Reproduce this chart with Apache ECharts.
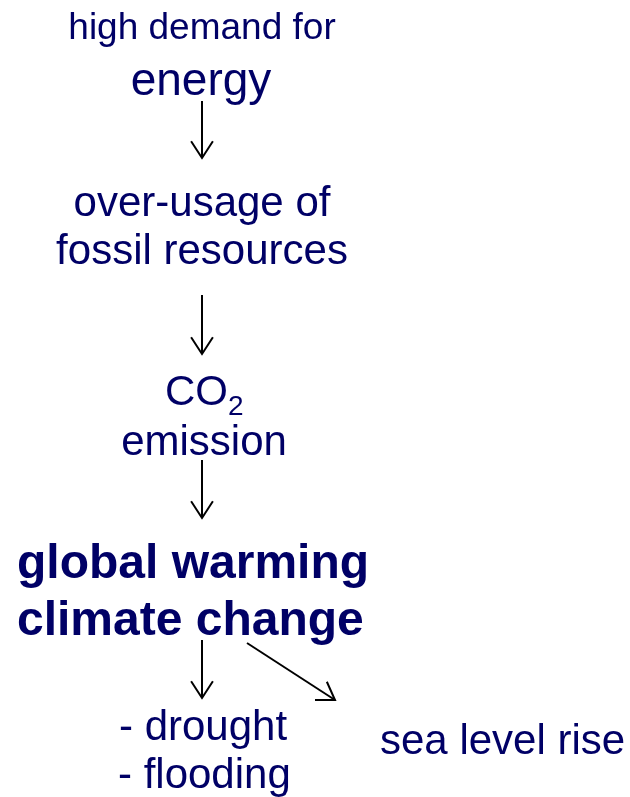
<!DOCTYPE html>
<html>
<head>
<meta charset="utf-8">
<script src="https://cdn.jsdelivr.net/npm/echarts@6/dist/echarts.min.js"></script>
<style>
html,body{margin:0;padding:0;background:#fff;}
#main{width:630px;height:797px;}
</style>
</head>
<body>
<div id="main"></div>
<script>
// ---- content (texts of the flow diagram) ----
const labels = [
  'high demand for',
  'energy',
  'over-usage of',
  'fossil resources',
  'CO',
  '2',
  'emission',
  'global warming',
  'climate change',
  '- drought',
  '- flooding',
  'sea level rise'
];
// arrows: step they leave from -> step they lead to
const arrowLinks = [
  ['energy', 'over-usage of'],
  ['fossil resources', 'CO'],
  ['emission', 'global warming'],
  ['climate change', '- drought'],
  ['climate change', 'sea level rise']
];

// ---- layout / style (kept apart from content) ----
const TEXT_COLOR = '#000066';
const FONT = '"Liberation Sans", Arial, sans-serif';
// x, baseline y, font size, align, weight
const textLayout = {
  'high demand for':  [202, 37, 37, 'center', 'normal'],
  'energy':           [201, 92, 46, 'center', 'normal'],
  'over-usage of':    [202, 214, 42, 'center', 'normal'],
  'fossil resources': [202, 262, 42, 'center', 'normal'],
  'CO':               [165, 403, 42, 'left', 'normal'],
  '2':                [228, 413, 28, 'left', 'normal'],
  'emission':         [204, 453, 42, 'center', 'normal'],
  'global warming':   [17, 575, 48, 'left', 'bold'],
  'climate change':   [17, 632, 48, 'left', 'bold'],
  '- drought':        [119, 738, 42, 'left', 'normal'],
  '- flooding':       [118, 786, 42, 'left', 'normal'],
  'sea level rise':   [380, 752, 42, 'left', 'normal']
};
// arrow shaft start / tip per link
const arrowLayout = [
  [[202, 101], [202, 158]],
  [[202, 295], [202, 354]],
  [[202, 460], [202, 518]],
  [[202, 640], [202, 698]],
  [[247, 643], [335, 700]]
];
const BASE_K = 0.22; // 'middle' anchor to alphabetic baseline, in em

const elements = [];
labels.forEach(function (t) {
  const L = textLayout[t];
  elements.push({
    type: 'text',
    x: L[0],
    y: L[1] - BASE_K * L[2],
    style: {
      text: t,
      fill: TEXT_COLOR,
      font: L[4] + ' ' + L[2] + 'px ' + FONT,
      align: L[3], textAlign: L[3],
      verticalAlign: 'middle', textVerticalAlign: 'middle'
    }
  });
});

const HEAD_LEN = 20, HEAD_ANG = 33 * Math.PI / 180;
arrowLinks.forEach(function (lnk, i) {
  const p0 = arrowLayout[i][0], p1 = arrowLayout[i][1];
  const a = Math.atan2(p1[1] - p0[1], p1[0] - p0[0]) + Math.PI;
  const h1 = [p1[0] + HEAD_LEN * Math.cos(a - HEAD_ANG), p1[1] + HEAD_LEN * Math.sin(a - HEAD_ANG)];
  const h2 = [p1[0] + HEAD_LEN * Math.cos(a + HEAD_ANG), p1[1] + HEAD_LEN * Math.sin(a + HEAD_ANG)];
  elements.push({
    type: 'polyline', name: lnk.join('->'),
    shape: { points: [p0, p1] },
    style: { stroke: '#000', lineWidth: 2, fill: null }
  });
  elements.push({
    type: 'polyline',
    shape: { points: [h1, p1, h2] },
    style: { stroke: '#000', lineWidth: 2, fill: null }
  });
});

const chart = echarts.init(document.getElementById('main'), null, { renderer: 'canvas' });
chart.setOption({
  backgroundColor: '#fff',
  animation: false,
  graphic: { elements: elements }
});
</script>
</body>
</html>
